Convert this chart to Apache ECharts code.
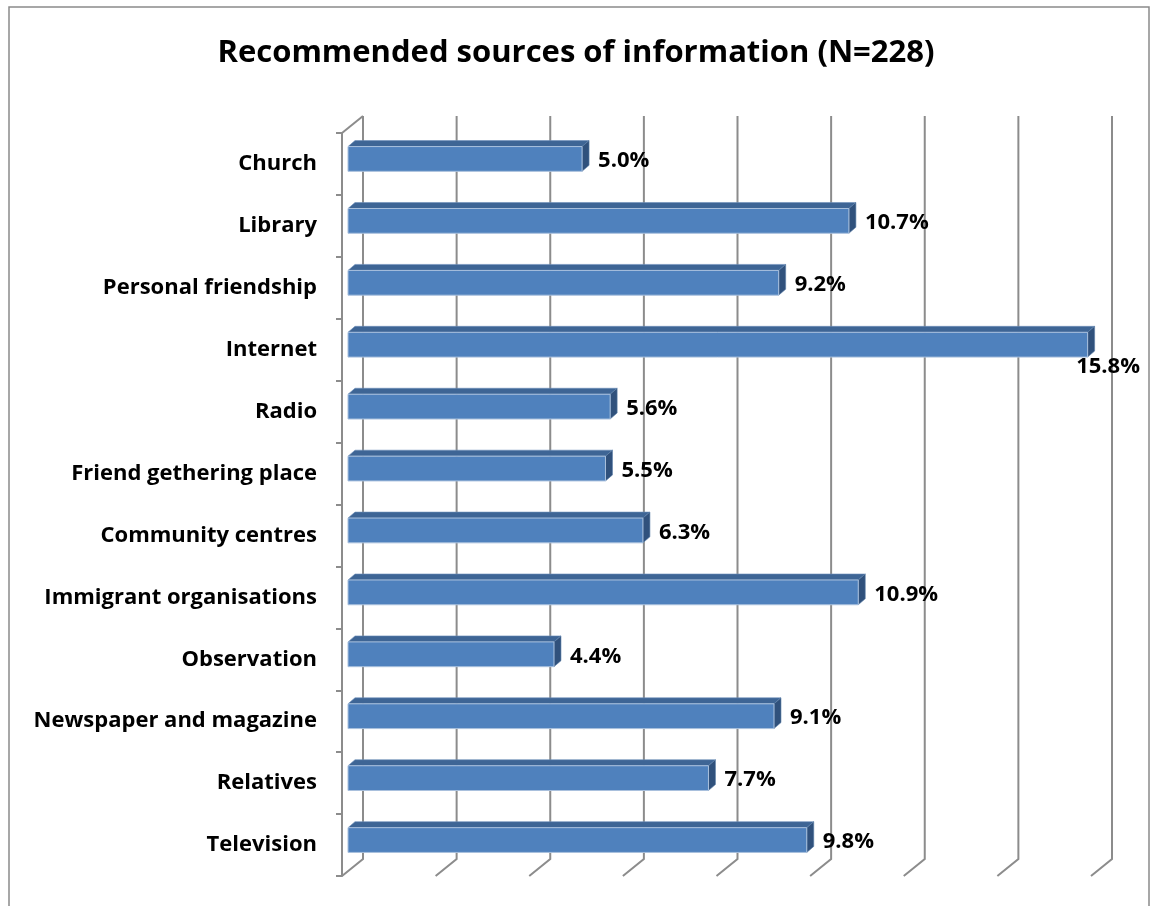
<!DOCTYPE html>
<html>
<head>
<meta charset="utf-8">
<title>Recommended sources of information</title>
<script src="https://cdn.jsdelivr.net/npm/echarts@6/dist/echarts.min.js"></script>
<style>
  html, body { margin: 0; padding: 0; background: #ffffff; }
  #chart { width: 1152px; height: 906px; }
</style>
</head>
<body>
<div id="chart"></div>
<script>
// Sources, top to bottom, with the share of respondents recommending each (%)
const categories = [
  'Church', 'Library', 'Personal friendship', 'Internet', 'Radio',
  'Friend gethering place', 'Community centres', 'Immigrant organisations',
  'Observation', 'Newspaper and magazine', 'Relatives', 'Television'
];
const values = [5.0, 10.7, 9.2, 15.8, 5.6, 5.5, 6.3, 10.9, 4.4, 9.1, 7.7, 9.8];
// Value-axis gridline positions (%)
const gridTicks = [0, 2, 4, 6, 8, 10, 12, 14, 16];

const FONT = '"Open Sans", "Noto Sans", sans-serif';
const WALL = { dx: 21, dy: -17 };     // offset of the back wall from the front plane
const BAR_FRONT = { dx: 6, dy: -5 };  // bar front face depth
const BAR_DEPTH = { dx: 7, dy: -6 };  // bar thickness in depth
const LINE_COLOR = '#8c8c8c';

const chart = echarts.init(document.getElementById('chart'), null, { renderer: 'canvas' });

function wallItem(params, api) {
  const cs = params.coordSys;
  const v = api.value(0);
  const x = api.coord([v, 0])[0];
  const top = cs.y, bottom = cs.y + cs.height;
  const children = [{
    type: 'polyline',
    shape: { points: [[x + WALL.dx, top + WALL.dy], [x + WALL.dx, bottom + WALL.dy], [x, bottom]] },
    style: { stroke: LINE_COLOR, lineWidth: 2, fill: null }
  }];
  if (v === 0) {
    children.push({
      type: 'line',
      shape: { x1: x, y1: top, x2: x + WALL.dx, y2: top + WALL.dy },
      style: { stroke: LINE_COLOR, lineWidth: 2 }
    });
  }
  return { type: 'group', children };
}

function barItem(params, api) {
  const idx = api.value(0);
  const v = api.value(1);
  const p0 = api.coord([0, idx]);
  const p1 = api.coord([v, idx]);
  const band = api.size([0, 1])[1];
  const h = band * 0.4;
  const xL = p0[0] + BAR_FRONT.dx;
  const xR = p1[0] + BAR_FRONT.dx;
  const yC = p0[1] + BAR_FRONT.dy;
  const yT = yC - h / 2, yB = yC + h / 2;
  const label = v.toFixed(1) + '%';
  const font = 'bold 22px ' + FONT;
  const tw = echarts.format.getTextRect ? echarts.format.getTextRect(label, font).width : 60;
  const limit = params.coordSys.x + params.coordSys.width + 49;
  let tx = xR + BAR_DEPTH.dx + 9, ty = yC + 2, align = 'left';
  if (tx + tw > limit) {
    tx = limit;
    align = 'right';
    ty = yB + 10;
  }
  return {
    type: 'group',
    children: [
      {
        type: 'polygon',
        shape: { points: [[xL, yT], [xR, yT], [xR + BAR_DEPTH.dx, yT + BAR_DEPTH.dy], [xL + BAR_DEPTH.dx, yT + BAR_DEPTH.dy]] },
        style: { fill: '#3e6595', stroke: '#6d8fbb', lineWidth: 0.6 }
      },
      {
        type: 'polygon',
        shape: { points: [[xR, yT], [xR + BAR_DEPTH.dx, yT + BAR_DEPTH.dy], [xR + BAR_DEPTH.dx, yB + BAR_DEPTH.dy], [xR, yB]] },
        style: { fill: '#30517c', stroke: '#5d7fa8', lineWidth: 0.6 }
      },
      {
        type: 'rect',
        shape: { x: xL, y: yT, width: xR - xL, height: h },
        style: { fill: '#4f81bd', stroke: '#a9c0dd', lineWidth: 1 }
      },
      {
        type: 'text',
        x: tx, y: ty,
        style: {
          text: label, font: font, fill: '#000000',
          align: align, verticalAlign: 'middle'
        }
      }
    ]
  };
}

const option = {
  backgroundColor: '#ffffff',
  animation: false,
  title: {
    text: 'Recommended sources of information (N=228)',
    left: 'center',
    top: 33,
    textStyle: { fontFamily: FONT, fontWeight: 'bold', fontSize: 31, color: '#000000' }
  },
  graphic: [{
    type: 'rect',
    shape: { x: 9, y: 7, width: 1140, height: 920 },
    style: { fill: null, stroke: '#8a8a8a', lineWidth: 1.5 },
    silent: true
  }],
  grid: { left: 342, top: 133, width: 749, height: 743, containLabel: false },
  xAxis: {
    type: 'value',
    min: 0, max: 16, interval: 2,
    axisLine: { show: false },
    axisTick: { show: false },
    axisLabel: { show: false },
    splitLine: { show: false }
  },
  yAxis: {
    type: 'category',
    data: categories,
    inverse: true,
    axisLine: { show: true, lineStyle: { color: LINE_COLOR, width: 2 } },
    axisTick: { show: true, length: 6, lineStyle: { color: LINE_COLOR, width: 2 } },
    axisLabel: {
      margin: 25,
      padding: [5, 0, 0, 0],
      fontFamily: FONT, fontWeight: 'bold', fontSize: 22, color: '#000000'
    },
    splitLine: { show: false }
  },
  series: [
    {
      type: 'custom',
      name: 'walls',
      renderItem: wallItem,
      data: gridTicks.map(v => [v]),
      encode: { x: 0 },
      silent: true,
      z: 1
    },
    {
      type: 'custom',
      name: 'share',
      renderItem: barItem,
      data: values.map((v, i) => [i, v]),
      encode: { y: 0, x: 1 },
      z: 3
    }
  ]
};

chart.setOption(option);
</script>
</body>
</html>
